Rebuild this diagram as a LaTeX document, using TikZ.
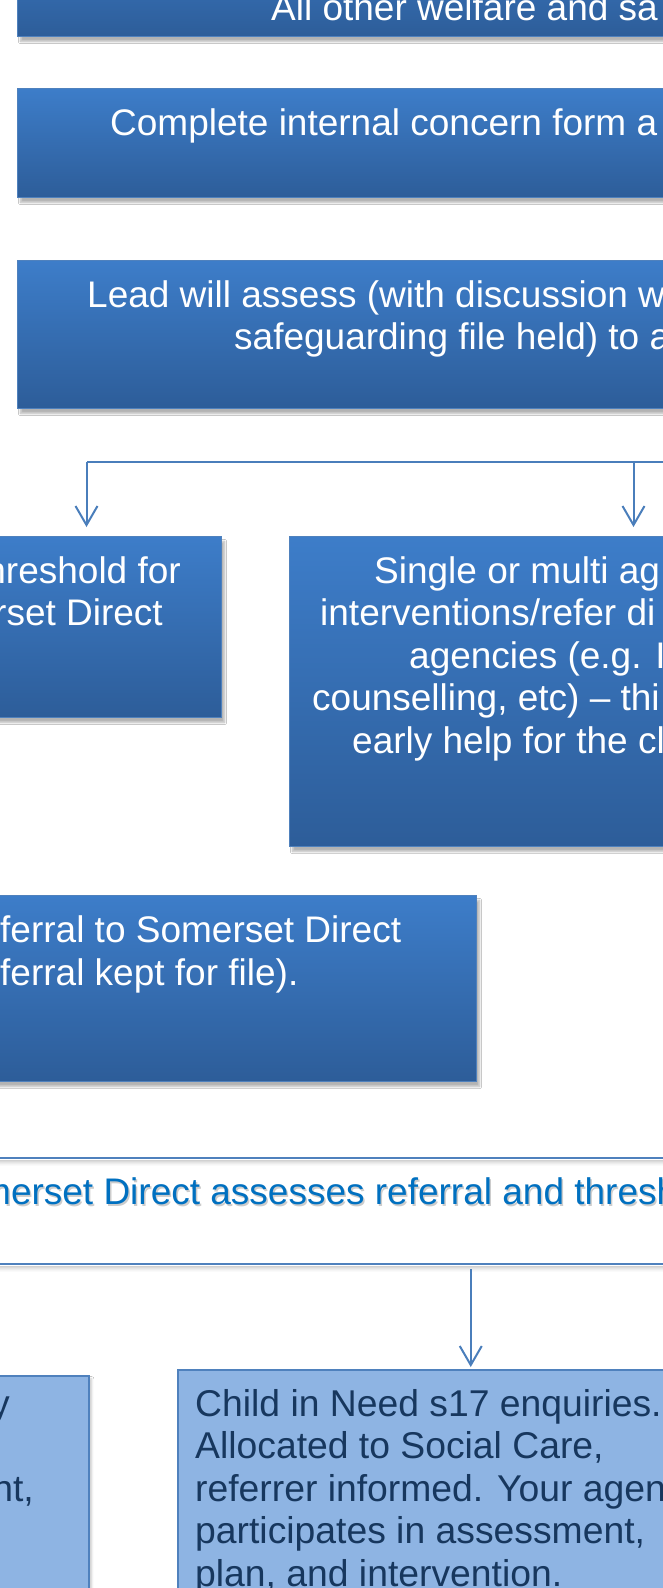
\documentclass[tikz,border=0pt]{standalone}
\usepackage{fontspec}
\setmainfont{Liberation Sans}
\usetikzlibrary{arrows.meta,shadows.blur,calc}
\definecolor{gtop}{RGB}{61,125,201}
\definecolor{gbot}{RGB}{45,93,153}
\definecolor{bord}{RGB}{79,129,189}
\definecolor{lfill}{RGB}{142,180,227}
\definecolor{ltext}{RGB}{23,55,94}
\definecolor{btext}{RGB}{0,112,192}
\definecolor{connc}{RGB}{74,126,187}
\begin{document}
\begin{tikzpicture}[x=1pt,y=-1pt,
  darkbox/.style={rectangle, inner sep=0pt, top color=gtop, bottom color=gbot, draw=bord, line width=1pt,
    blur shadow={shadow xshift=3pt, shadow yshift=-5pt, shadow blur steps=6, shadow opacity=30}},
  lightbox/.style={rectangle, inner sep=0pt, fill=lfill, draw=bord, line width=1.5pt,
    blur shadow={shadow xshift=3pt, shadow yshift=-3pt, shadow blur steps=5, shadow opacity=20}},
  plainbox/.style={rectangle, inner sep=0pt, draw=none},
  wtext/.style={inner sep=0pt, text=white, font=\fontsize{37}{42.5}\selectfont},
  btxt/.style={inner sep=0pt, text=btext, font=\fontsize{37}{42.5}\selectfont},
  bshadow/.style={inner sep=0pt, text=black, opacity=0.2, font=\fontsize{37}{42.5}\selectfont},
  ltxt/.style={inner sep=0pt, text=ltext, font=\fontsize{37.3}{42.5}\selectfont},
  edgeline/.style={draw=bord, line width=2pt},
  connline/.style={draw=connc, line width=2pt},
  conn/.style={draw=connc, line width=2pt, -{Straight Barb[length=19pt,width=22pt,line width=2pt]}}
]
\useasboundingbox (0,0) rectangle (663,1588);
\begin{scope}
\clip (0,0) rectangle (663,1588);
\fill[white] (0,0) rectangle (663,1588);

% dark gradient boxes
\node[darkbox, minimum width=703pt, minimum height=117pt, anchor=south west] (b1) at (17,37) {};
\node[darkbox, minimum width=703pt, minimum height=109pt, anchor=north west] (b2) at (17,88) {};
\node[darkbox, minimum width=703pt, minimum height=148pt, anchor=north west] (b3) at (17,260) {};
\node[darkbox, minimum width=270pt, minimum height=181pt, anchor=north west] (b4) at (-49,536) {};
\node[darkbox, minimum width=688pt, minimum height=310pt, anchor=north west] (b5) at (289,536) {};
\node[darkbox, minimum width=676pt, minimum height=186pt, anchor=north west] (b6) at (-200,895) {};

% wide outlined box
\node[plainbox, minimum width=770pt, minimum height=106pt, anchor=north west] (b7) at (-50,1158) {};
\foreach \k/\o in {1/0.18,2/0.14,3/0.10,4/0.07,5/0.04,6/0.02} {
  \draw[black, opacity=\o, line width=1pt] ([yshift={-(\k+1)*1pt}]b7.north west) -- ([yshift={-(\k+1)*1pt}]b7.north east);
  \draw[black, opacity=\o, line width=1pt] ([yshift={-(\k+1)*1pt}]b7.south west) -- ([yshift={-(\k+1)*1pt}]b7.south east);
}
\draw[edgeline] (b7.north west) -- (b7.north east);
\draw[edgeline] (b7.south west) -- (b7.south east);

% light boxes
\node[lightbox, minimum width=288pt, minimum height=325pt, anchor=north west] (b8) at (-200,1375) {};
\node[lightbox, minimum width=586pt, minimum height=331pt, anchor=north west] (b9) at (177,1369) {};

% texts
\node[wtext, anchor=base west] (t1) at (271,20) {All other welfare and sa};
\node[wtext, anchor=base west] (t2) at (110,135) {Complete internal concern form a};
\node[wtext, anchor=base west] (t3a) at (87,307) {Lead will assess (with discussion w};
\node[wtext, anchor=base west] (t3b) at (234,349) {safeguarding file held) to a};
\node[wtext, anchor=base east] (t4a) at (181,583) {hreshold for};
\node[wtext, anchor=base east] (t4b) at (163,625.5) {rset Direct};
\node[wtext, anchor=base west] (t5a) at (374,583) {Single or multi ag};
\node[wtext, anchor=base west] (t5b) at (320,625.5) {interventions/refer di};
\node[wtext, anchor=base west] (t5c) at (409,668) {agencies (e.g. I};
\node[wtext, anchor=base west] (t5d) at (312,710.5) {counselling, etc) – thi};
\node[wtext, anchor=base west] (t5e) at (352,753) {early help for the cl};
\node[wtext, anchor=base west] (t6a) at (0,942) {ferral to Somerset Direct};
\node[wtext, anchor=base west] (t6b) at (0,985) {ferral kept for file).};
\node[bshadow, anchor=base west] (t7s) at (-18.5,1206.5) {merset Direct assesses referral and thresh};
\node[btxt, anchor=base west] (t7) at (-20,1204) {merset Direct assesses referral and thresh};
\node[ltxt, anchor=base east] (t8a) at (10,1416) {y};
\node[ltxt, anchor=base east] (t8b) at (34,1501) {nt,};
\node[ltxt, anchor=base west] (t9a) at (195,1416) {Child in Need s17 enquiries.};
\node[ltxt, anchor=base west] (t9b) at (195,1458.5) {Allocated to Social Care,};
\node[ltxt, anchor=base west] (t9c) at (195,1501) {referrer informed. Your agen};
\node[ltxt, anchor=base west] (t9d) at (195,1543.5) {participates in assessment,};
\node[ltxt, anchor=base west] (t9e) at (195,1586) {plan, and intervention.};

% connectors
\coordinate (jr) at (700,462);
\coordinate (jl) at (b4.north |- jr);
\coordinate (jm) at (b5.north |- jr);
\coordinate (bs) at (b9.north |- b7.south);
\draw[connline] (jr) -- (jl);
\draw[conn] (jl) -- ([yshift=9pt]b4.north);
\draw[conn] (jm) -- ([yshift=9pt]b5.north);
\draw[conn] ([yshift=-5pt]bs) -- ([yshift=2pt]b9.north);
\end{scope}
\end{tikzpicture}
\end{document}
